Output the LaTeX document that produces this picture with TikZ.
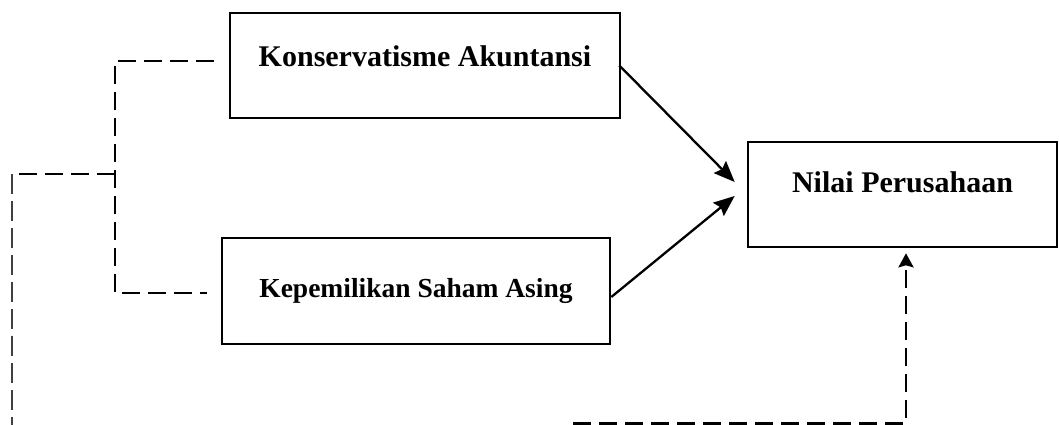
\documentclass[tikz,border=0pt]{standalone}
\usepackage{fontspec}
\setmainfont{Liberation Serif}
\usetikzlibrary{arrows.meta}

\tikzset{
  kotak/.style={draw, line width=2.6pt, inner sep=0pt, align=center,
    font=\fontsize{30}{36}\selectfont\bfseries},
  garis/.style={line width=2.5pt, dash pattern=on 18pt off 8pt},
  panah/.style={line width=2.3pt, -{Stealth[length=21pt,width=17pt,inset=3pt]}}
}

\begin{document}
\begin{tikzpicture}[line cap=butt,line join=miter,x=1pt,y=1pt]

		\useasboundingbox (0,0) rectangle (1059,425);

		%kotak-kotak
		\node [kotak, minimum width=390pt, minimum height=105pt, text height=20pt, text depth=17pt] (ka) at (425,359.5) {Konservatisme Akuntansi};
		\node [kotak, minimum width=388pt, minimum height=106pt, text height=18pt, text depth=4pt,
		       font=\fontsize{27.5}{33}\selectfont\bfseries] (ksa) at (416,134) {Kepemilikan Saham Asing};
		\node [kotak, minimum width=309pt, minimum height=105pt, text height=20pt, text depth=23pt] (np) at (902.5,230.5) {Nilai Perusahaan};

		%panah langsung
		\draw [panah] ([xshift=-2pt]ka.east) -- ([xshift=-12pt,yshift=12.5pt]np.west);
		\draw [panah] ([yshift=-6pt]ksa.east) -- ([xshift=-12pt,yshift=-1.5pt]np.west);

		%garis putus-putus
		\coordinate (kurung) at (115,251);
		\coordinate (kiri) at (12,251);
		\coordinate (kiribawah) at (12,0);
		\coordinate (bawah) at (573,1.5);

		\draw [garis] ([xshift=-15pt,yshift=4.5pt]ka.west) -| (kurung) |- ([xshift=-14pt,yshift=-2pt]ksa.west);
		\draw [garis] (kurung) -- (kiri);
		\draw [line width=1.5pt, dash pattern=on 20pt off 7pt, color=darkgray] (kiri) -- (kiribawah);
		\draw [garis, -{Stealth[length=14pt,width=15pt,inset=2pt]}, shorten >=5pt] (bawah) -| ([xshift=3.5pt]np.south);

	\end{tikzpicture}
\end{document}
